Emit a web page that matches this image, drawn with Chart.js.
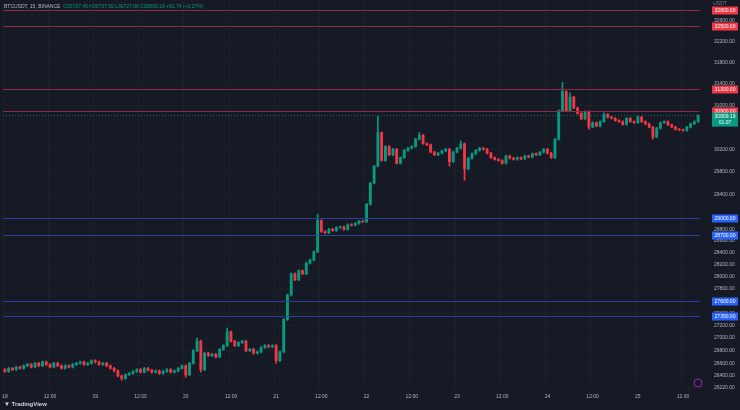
<!DOCTYPE html>
<html><head><meta charset="utf-8">
<script src="https://cdn.jsdelivr.net/npm/chart.js@4"></script>
<style>
html,body{margin:0;padding:0;background:#161a25;}
#wrap{position:relative;width:740px;height:410px;}
#hdr{position:absolute;left:4px;top:3px;font:5px "Liberation Sans",Arial,sans-serif;color:#b2b5be;white-space:nowrap}
#hdr span{color:#089981}
#logo{position:absolute;left:4px;bottom:3px;font:bold 6px "Liberation Sans",Arial,sans-serif;color:#d1d4dc}
</style></head>
<body><div id="wrap"><canvas id="c" width="740" height="410"></canvas>
<div id="hdr">BTCUSDT, 15, BINANCE &nbsp;<span>O30727.45 H30737.50 L30727.06 C30809.19 +81.74 (+0.27%)</span></div>
<div id="logo">&#9660; TradingView</div></div>
<script>
const closes=[26470,26520,26500,26540,26520,26560,26580,26540,26600,26560,26620,26580,26540,26600,26560,26520,26560,26540,26580,26600,26620,26580,26600,26640,26620,26580,26600,26560,26520,
26480,26400,26360,26420,26440,
26470,26500,26460,26520,26490,26460,26480,26440,26470,26500,26460,26480,26520,
26560,26420,26600,26800,26950,26500,26760,26720,26740,26700,26820,26880,27100,26950,26880,26930,26950,26800,26820,26760,26780,26850,26880,26860,26880,26640,26780,
27300,27700,28050,27950,28100,28050,28230,28280,28420,28950,28760,28740,28800,28780,28830,28840,28800,28880,28870,28900,28940,28930,
29230,29600,29900,30500,30000,30250,30100,30200,29950,30050,30180,30220,30250,30380,30450,30300,30280,30150,30100,30130,30170,30200,29980,30150,30220,30300,29850,
30040,30120,30180,30220,30200,30130,30050,30020,30000,29950,30080,30040,30020,30050,30030,30080,30060,30120,30100,30150,30200,30130,30050,
30380,30900,31250,30900,31150,30950,30850,30750,30880,30600,30680,30620,30700,30830,30780,30760,30720,30700,30650,30760,30700,30680,30780,30700,30660,30600,30420,30580,30680,30700,30640,30600,30560,30550,30540,30600,30660,30700,30809.19];
const firstOpen=26500;
// wick extremes (index -> price)
const spikeHigh={51:27000,59:27160,83:29060,99:30800,110:30500,121:30350,148:31420,150:31230,159:30860,168:30800};
const spikeLow={31:26330,48:26380,52:26460,72:26600,122:29650,118:29900,155:30560,172:30380};
const dayNames=['18','19','20','21','22','23','24','25'];
const redLevels=[32800,32500,31300,30900];
const blueLevels=[29000,28700,27600,27350];
const yTicks=[32600,32200,31800,31400,31000,30200,29800,29400,28800,28600,28400,28200,28000,27800,27400,27200,27000,26800,26600,26400,26220];

const opens=closes.map((c,i)=>i?closes[i-1]:firstOpen);
const highs=closes.map((c,i)=>spikeHigh[i]??Math.max(c,opens[i])+15);
const lows=closes.map((c,i)=>spikeLow[i]??Math.min(c,opens[i])-15);
const labels=closes.map((c,i)=>i%24===0?dayNames[i/24]:(i%12===0?'12:00':''));
const cols=closes.map((c,i)=>c>=opens[i]?'#089981':'#f23645');
const bodies=closes.map((c,i)=>{let a=Math.min(c,opens[i]),b=Math.max(c,opens[i]);if(b-a<6){b+=3;a-=3;}return [a,b];});

const levels={id:'levels',
 afterDatasetsDraw(ch){const {ctx,chartArea:a,scales:{y}}=ch;ctx.save();
  const draw=(v,col,tag,lab)=>{const py=Math.round(y.getPixelForValue(v));
   ctx.fillStyle=col;ctx.fillRect(a.left,py,a.right-a.left,1);
   ctx.fillStyle=tag;ctx.fillRect(a.right+12,py-3.5,26,8);
   ctx.fillStyle='#fff';ctx.font='5px "Liberation Sans",Arial';ctx.textAlign='center';ctx.textBaseline='middle';ctx.fillText(lab,a.right+25,py+0.5);};
  redLevels.forEach(v=>draw(v,'#8f2b3a','#f23645',v.toFixed(2)));
  blueLevels.forEach(v=>draw(v,'#2b4099','#2962ff',v.toFixed(2)));
  const last=closes[closes.length-1],py=y.getPixelForValue(last);
  ctx.setLineDash([1,2]);ctx.strokeStyle='rgba(8,153,129,0.7)';ctx.beginPath();ctx.moveTo(a.left,py);ctx.lineTo(a.right,py);ctx.stroke();ctx.setLineDash([]);
  ctx.fillStyle='#089981';ctx.fillRect(a.right+12,py-3,26,14);ctx.fillStyle='#fff';ctx.font='5px "Liberation Sans",Arial';ctx.textAlign='center';ctx.textBaseline='middle';
  ctx.fillText(last.toFixed(2),a.right+25,py+1);ctx.fillText('01:07',a.right+25,py+7);
  ctx.fillStyle='#787b86';ctx.fillText('USDT',a.right+20,4);
  ctx.strokeStyle='#9c27b0';ctx.beginPath();ctx.arc(698,383,4,0,7);ctx.stroke();
  ctx.restore();}};

new Chart(document.getElementById('c'),{type:'bar',
 data:{labels,datasets:[
  {data:closes.map((c,i)=>[lows[i],highs[i]]),backgroundColor:cols,barThickness:1,grouped:false,order:2},
  {data:bodies,backgroundColor:cols,barThickness:2.2,grouped:false,order:1}]},
 options:{responsive:false,animation:false,events:[],
  layout:{padding:{left:3,top:0,right:0,bottom:0}},
  plugins:{legend:{display:false},tooltip:{enabled:false}},
  scales:{
   x:{offset:true,grid:{color:c=>labels[c.index]?'#1d212c':'rgba(0,0,0,0)',drawTicks:false},border:{display:false},
      afterFit:s=>{s.height=20;s.paddingLeft=0;s.paddingRight=0;},
      ticks:{autoSkip:false,maxRotation:0,color:'#b2b5be',font:{size:5},padding:4,callback:(v,i)=>labels[i]}},
   y:{type:'logarithmic',position:'right',min:26181,max:32996,grid:{color:'#1b1f2a',drawTicks:false},border:{display:false},
      afterBuildTicks:s=>{s.ticks=yTicks.map(v=>({value:v}));},
      afterFit:s=>{s.width=40;s.paddingTop=0;s.paddingBottom=0;},
      ticks:{color:'#b2b5be',font:{size:5},padding:14,callback:v=>Number(v).toFixed(2)}}}},
 plugins:[levels]});
</script></body></html>
